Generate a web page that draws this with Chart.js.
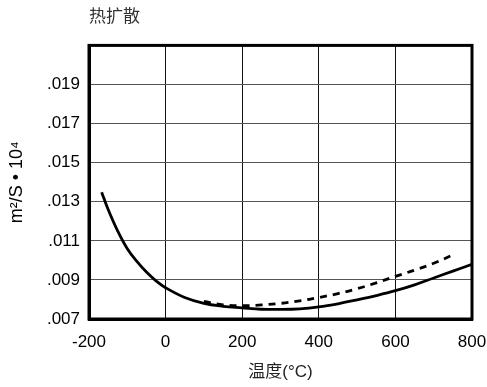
<!DOCTYPE html>
<html>
<head>
<meta charset="utf-8">
<script src="https://cdn.jsdelivr.net/npm/chart.js@4"></script>
<style>
  html, body { margin: 0; padding: 0; background: #fff; }
  #wrap { width: 487px; height: 387px; }
</style>
</head>
<body>
<div id="wrap"><canvas id="chart" width="487" height="387"></canvas></div>
<script>
// temperature (°C) and thermal diffusivity (m²/s · 10⁴)
var solidTemps = [-167, -150, -125, -100, -75, -50, -25, 0, 50, 100, 150, 200, 250, 300, 350, 400, 450, 500, 550, 600, 650, 700, 750, 800];
var solidValues = [0.01349, 0.0126, 0.0115, 0.0106, 0.00995, 0.0094, 0.00895, 0.0086, 0.0081, 0.0078, 0.00765, 0.00757, 0.0075, 0.00749, 0.00752, 0.00762, 0.00778, 0.00798, 0.0082, 0.00845, 0.00875, 0.0091, 0.00945, 0.0098];

var dashTemps = [100, 150, 200, 250, 300, 350, 400, 450, 500, 550, 600, 650, 700, 756];
var dashValues = [0.0079, 0.00772, 0.00768, 0.00772, 0.0078, 0.00793, 0.0081, 0.0083, 0.00855, 0.00885, 0.00918, 0.0095, 0.00985, 0.01033];

var xTicks = [-200, 0, 200, 400, 600, 800];
var yTicks = [0.007, 0.009, 0.011, 0.013, 0.015, 0.017, 0.019];

function toPoints(xs, ys) {
  return xs.map(function (x, i) { return { x: x, y: ys[i] }; });
}

// heavy frame round the plot area
var frame = {
  id: 'frame',
  afterDraw: function (chart) {
    var a = chart.chartArea, ctx = chart.ctx;
    ctx.save();
    ctx.strokeStyle = '#000';
    ctx.lineWidth = 3;
    ctx.strokeRect(a.left, a.top, a.right - a.left, a.bottom - a.top);
    ctx.restore();
  }
};

var sans = "'Liberation Sans', Arial, 'Noto Sans CJK SC', sans-serif";

new Chart(document.getElementById('chart'), {
  type: 'line',
  data: {
    datasets: [{
      data: toPoints(solidTemps, solidValues),
      borderColor: '#000',
      borderWidth: 2.8,
      pointRadius: 0,
      tension: 0.4,
      fill: false
    }, {
      data: toPoints(dashTemps, dashValues),
      borderColor: '#000',
      borderWidth: 2.8,
      borderDash: [7, 6],
      pointRadius: 0,
      tension: 0.4,
      fill: false
    }]
  },
  options: {
    responsive: false,
    animation: false,
    layout: { padding: { left: 0, right: 15, top: 0, bottom: 0 } },
    plugins: {
      legend: { display: false },
      tooltip: { enabled: false },
      title: {
        display: true,
        text: '热扩散',
        align: 'start',
        fullSize: false,
        color: '#333',
        font: { family: sans, size: 17, weight: 'normal' },
        padding: { top: 7, bottom: 18 }
      }
    },
    scales: {
      x: {
        type: 'linear',
        min: -200,
        max: 800,
        afterBuildTicks: function (s) { s.ticks = xTicks.map(function (v) { return { value: v }; }); },
        afterFit: function (s) {
          s.height = 68;
          s.paddingLeft = 0;
          s.paddingRight = 0;
        },
        grid: { color: '#111', lineWidth: 1, drawTicks: false },
        border: { display: true, color: '#000', width: 3 },
        ticks: { color: '#000', padding: 13, font: { family: sans, size: 17 } },
        title: {
          display: true,
          text: '温度(°C)',
          color: '#222',
          font: { family: sans, size: 17 },
          padding: { top: 0, bottom: 4 }
        }
      },
      y: {
        min: 0.007,
        max: 0.021,
        afterBuildTicks: function (s) {
          s.ticks = yTicks.concat([0.021]).map(function (v) { return { value: v }; });
        },
        afterFit: function (s) { s.width = 89; },
        grid: { color: '#555', lineWidth: 1, drawTicks: false },
        border: { display: true, color: '#000', width: 3 },
        ticks: {
          color: '#000',
          padding: 9,
          font: { family: sans, size: 17 },
          callback: function (v) {
            if (v > 0.0205) return '';
            return v.toFixed(3).replace(/^0/, '');
          }
        },
        title: {
          display: true,
          text: 'm²/S • 10⁴',
          color: '#000',
          font: { family: sans, size: 18 },
          padding: { top: 6, bottom: 0 }
        }
      }
    }
  },
  plugins: [frame]
});
</script>
</body>
</html>
